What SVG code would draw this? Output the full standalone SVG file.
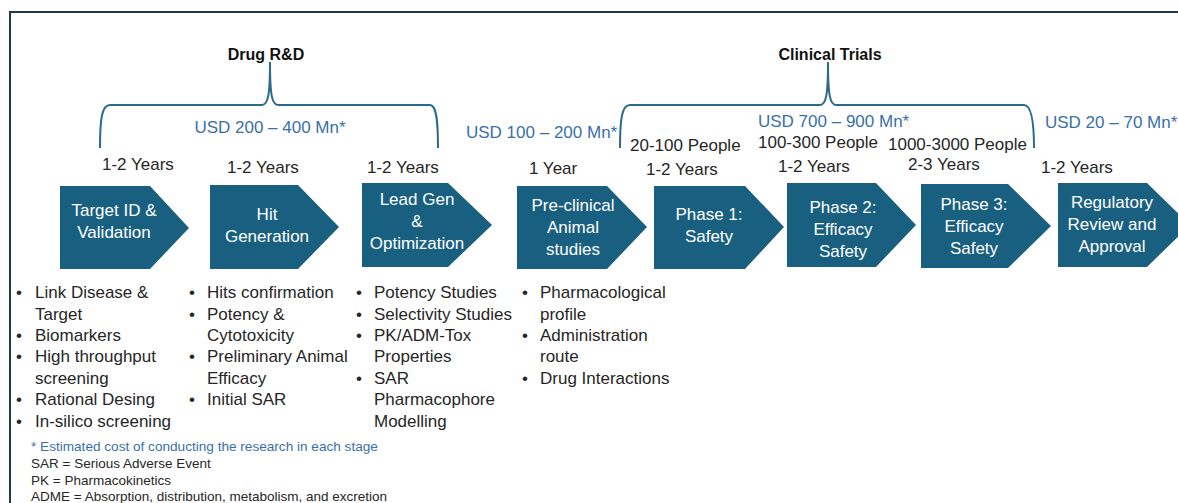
<svg xmlns="http://www.w3.org/2000/svg" width="1178" height="503" viewBox="0 0 1178 503">
<style>
.t{font-family:"Liberation Sans",Arial,sans-serif;font-size:17px;fill:#262626}
.b{font-family:"Liberation Sans",Arial,sans-serif;font-size:16px;font-weight:bold;fill:#111}
.usd{font-family:"Liberation Sans",Arial,sans-serif;font-size:17px;fill:#3a70a8}
.w{font-family:"Liberation Sans",Arial,sans-serif;font-size:17px;fill:#ffffff;text-anchor:middle}
.fn{font-family:"Liberation Sans",Arial,sans-serif;font-size:13.5px;fill:#262626}
.fb{font-family:"Liberation Sans",Arial,sans-serif;font-size:13.6px;fill:#3a70a8}
.chev{fill:#195f80}
.brace{fill:none;stroke:#2a6a8a;stroke-width:2}
</style>
<rect x="0" y="0" width="1178" height="503" fill="#ffffff"/>
<rect x="10" y="12" width="1200" height="520" fill="none" stroke="#1e3a4c" stroke-width="2"/>
<g id="headers">
<text class="b" x="266" y="60" text-anchor="middle">Drug R&amp;D</text>
<text class="b" x="830" y="60" text-anchor="middle">Clinical Trials</text>
</g>
<g id="connectors">
<path class="brace" d="M100,148 C100,118 102,105 110,105 L262,105 C268,105 270,95 270,62 C270,95 272,105 278,105 L430,105 C436,105 438,118 438,148"/>
<path class="brace" d="M620,148 C620,118 622,105 630,105 L820,105 C826,105 828,95 828,62 C828,95 830,105 836,105 L1024,105 C1030,105 1034,118 1034,148"/>
</g>
<g id="costs">
<text class="usd" x="270" y="133" text-anchor="middle">USD 200 – 400 Mn*</text>
<text class="usd" x="466" y="138">USD 100 – 200 Mn*</text>
<text class="usd" x="758" y="127">USD 700 – 900 Mn*</text>
<text class="usd" x="1045" y="128">USD 20 – 70 Mn*</text>
</g>
<g id="durations">
<text class="t" x="102" y="170">1-2 Years</text>
<text class="t" x="227" y="173">1-2 Years</text>
<text class="t" x="367" y="173">1-2 Years</text>
<text class="t" x="529" y="174">1 Year</text>
<text class="t" x="630" y="151">20-100 People</text>
<text class="t" x="646" y="175">1-2 Years</text>
<text class="t" x="758" y="148">100-300 People</text>
<text class="t" x="778" y="172">1-2 Years</text>
<text class="t" x="888" y="150">1000-3000 People</text>
<text class="t" x="908" y="170">2-3 Years</text>
<text class="t" x="1041" y="173">1-2 Years</text>
</g>
<g id="target-id">
<polygon class="chev" points="60,186 150,186 189,228 150,269 60,269"/>
<text class="w" x="114" y="216">Target ID &amp;</text>
<text class="w" x="114" y="238">Validation</text>
</g>
<g id="hit-generation">
<polygon class="chev" points="210,185 298,185 339,227 298,269 210,269"/>
<text class="w" x="267" y="220">Hit</text>
<text class="w" x="267" y="242">Generation</text>
</g>
<g id="lead-gen">
<polygon class="chev" points="362,183 448,183 492,225 448,267 362,267"/>
<text class="w" x="417" y="205">Lead Gen</text>
<text class="w" x="417" y="227">&amp;</text>
<text class="w" x="417" y="249">Optimization</text>
</g>
<g id="pre-clinical">
<polygon class="chev" points="517,186 607,186 647,227 607,269 517,269"/>
<text class="w" x="573" y="211">Pre-clinical</text>
<text class="w" x="573" y="233">Animal</text>
<text class="w" x="573" y="255">studies</text>
</g>
<g id="phase-1">
<polygon class="chev" points="654,186 745,186 784,227 745,269 654,269"/>
<text class="w" x="709" y="220">Phase 1:</text>
<text class="w" x="709" y="242">Safety</text>
</g>
<g id="phase-2">
<polygon class="chev" points="787,183 876,183 916,225 876,267 787,267"/>
<text class="w" x="843" y="213">Phase 2:</text>
<text class="w" x="843" y="235">Efficacy</text>
<text class="w" x="843" y="257">Safety</text>
</g>
<g id="phase-3">
<polygon class="chev" points="921,184 1008,184 1051,226 1008,268 921,268"/>
<text class="w" x="974" y="210">Phase 3:</text>
<text class="w" x="974" y="232">Efficacy</text>
<text class="w" x="974" y="254">Safety</text>
</g>
<g id="regulatory">
<polygon class="chev" points="1058,183 1147,183 1190,225 1147,267 1058,267"/>
<text class="w" x="1112" y="208">Regulatory</text>
<text class="w" x="1112" y="230">Review and</text>
<text class="w" x="1112" y="252">Approval</text>
</g>
<g id="bullets-1">
<text class="t" x="16" y="298">•</text><text class="t" x="35" y="298">Link Disease &amp;</text>
<text class="t" x="35" y="320">Target</text>
<text class="t" x="16" y="341">•</text><text class="t" x="35" y="341">Biomarkers</text>
<text class="t" x="16" y="362">•</text><text class="t" x="35" y="362">High throughput</text>
<text class="t" x="35" y="384">screening</text>
<text class="t" x="16" y="405">•</text><text class="t" x="35" y="405">Rational Desing</text>
<text class="t" x="16" y="427">•</text><text class="t" x="35" y="427">In-silico screening</text>
</g>
<g id="bullets-2">
<text class="t" x="189" y="298">•</text><text class="t" x="207" y="298">Hits confirmation</text>
<text class="t" x="189" y="320">•</text><text class="t" x="207" y="320">Potency &amp;</text>
<text class="t" x="207" y="341">Cytotoxicity</text>
<text class="t" x="189" y="362">•</text><text class="t" x="207" y="362">Preliminary Animal</text>
<text class="t" x="207" y="384">Efficacy</text>
<text class="t" x="189" y="405">•</text><text class="t" x="207" y="405">Initial SAR</text>
</g>
<g id="bullets-3">
<text class="t" x="356" y="298">•</text><text class="t" x="374" y="298">Potency Studies</text>
<text class="t" x="356" y="320">•</text><text class="t" x="374" y="320">Selectivity Studies</text>
<text class="t" x="356" y="341">•</text><text class="t" x="374" y="341">PK/ADM-Tox</text>
<text class="t" x="374" y="362">Properties</text>
<text class="t" x="356" y="384">•</text><text class="t" x="374" y="384">SAR</text>
<text class="t" x="374" y="405">Pharmacophore</text>
<text class="t" x="374" y="427">Modelling</text>
</g>
<g id="bullets-4">
<text class="t" x="522" y="298">•</text><text class="t" x="540" y="298">Pharmacological</text>
<text class="t" x="540" y="320">profile</text>
<text class="t" x="522" y="341">•</text><text class="t" x="540" y="341">Administration</text>
<text class="t" x="540" y="362">route</text>
<text class="t" x="522" y="384">•</text><text class="t" x="540" y="384">Drug Interactions</text>
</g>
<g id="footnotes">
<text class="fb" x="31" y="451">* Estimated cost of conducting the research in each stage</text>
<text class="fn" x="31" y="468">SAR = Serious Adverse Event</text>
<text class="fn" x="31" y="485">PK = Pharmacokinetics</text>
<text class="fn" x="31" y="501">ADME = Absorption, distribution, metabolism, and excretion</text>
</g>
</svg>
